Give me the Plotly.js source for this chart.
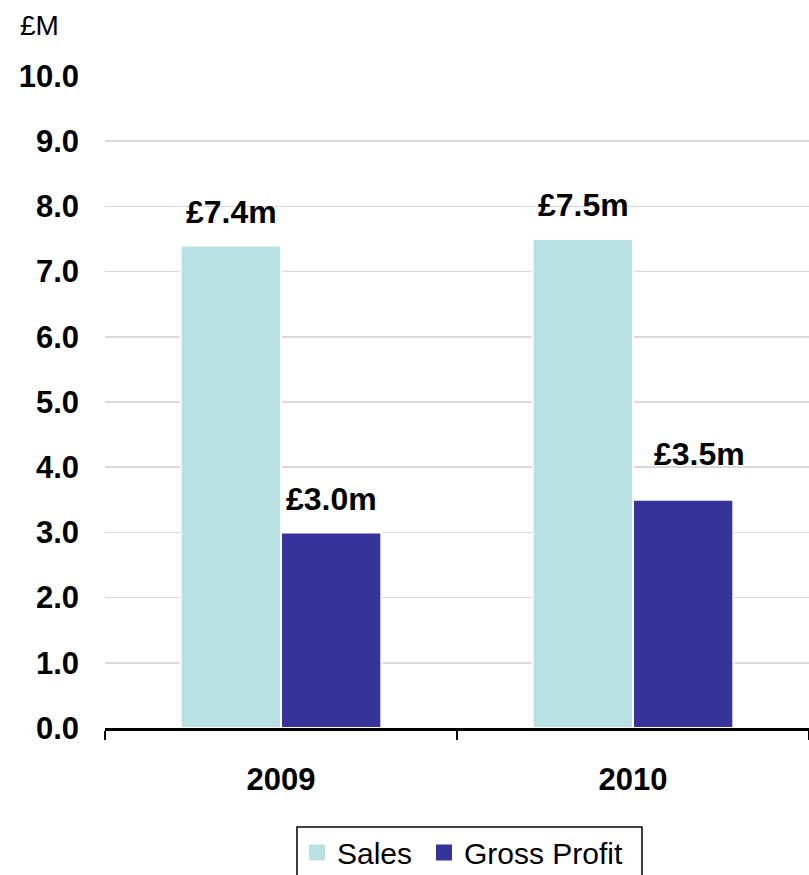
<!DOCTYPE html>
<html>
<head>
<meta charset="utf-8">
<script src="https://cdn.plot.ly/plotly-3.0.1.min.js"></script>
<style>
html, body { margin: 0; padding: 0; background: #ffffff; }
#chart { width: 809px; height: 875px; }
</style>
</head>
<body>
<div id="chart"></div>
<script>
var years = ['2009', '2010'];
var sales = [7.4, 7.5];
var grossProfit = [3.0, 3.5];
var salesLabels = ['£7.4m', '£7.5m'];
var profitLabels = ['£3.0m', '£3.5m'];
var yTickVals = [0, 1, 2, 3, 4, 5, 6, 7, 8, 9, 10];
var yTickText = ['0.0', '1.0', '2.0', '3.0', '4.0', '5.0', '6.0', '7.0', '8.0', '9.0', '10.0'];

var FONT = 'Liberation Sans, Arial, sans-serif';
var salesColor = '#b9e0e3';
var profitColor = '#36349a';

var traces = [
  {
    type: 'bar', name: 'Sales', x: years, y: sales,
    marker: { color: salesColor, line: { color: '#ffffff', width: 2 } },
    showlegend: false, hoverinfo: 'skip'
  },
  {
    type: 'bar', name: 'Gross Profit', x: years, y: grossProfit,
    marker: { color: profitColor, line: { color: '#ffffff', width: 2 } },
    showlegend: false, hoverinfo: 'skip'
  },
  {
    type: 'scatter', mode: 'markers', name: 'Sales', x: years, y: [null, null],
    xaxis: 'x2', yaxis: 'y2', legend: 'legend',
    marker: { symbol: 'square', size: 16, color: salesColor }, hoverinfo: 'skip'
  },
  {
    type: 'scatter', mode: 'markers', name: 'Gross Profit', x: years, y: [null, null],
    xaxis: 'x2', yaxis: 'y2', legend: 'legend2',
    marker: { symbol: 'square', size: 16, color: profitColor }, hoverinfo: 'skip'
  }
];

var annotations = [];
var labelShiftsSales = [-50, -50];
var labelShiftsProfit = [50, 66];
var labelLiftSales = [14, 14];
var labelLiftProfit = [13, 26];
for (var i = 0; i < years.length; i++) {
  annotations.push({
    x: i, y: sales[i], xref: 'x', yref: 'y', text: '<b>' + salesLabels[i] + '</b>',
    showarrow: false, xanchor: 'center', yanchor: 'bottom',
    xshift: labelShiftsSales[i], yshift: labelLiftSales[i],
    font: { family: FONT, size: 32, color: '#000000' }
  });
  annotations.push({
    x: i, y: grossProfit[i], xref: 'x', yref: 'y', text: '<b>' + profitLabels[i] + '</b>',
    showarrow: false, xanchor: 'center', yanchor: 'bottom',
    xshift: labelShiftsProfit[i], yshift: labelLiftProfit[i],
    font: { family: FONT, size: 32, color: '#000000' }
  });
}
annotations.push({
  text: '£M', xref: 'paper', yref: 'paper', x: -0.124, y: 1.078,
  xanchor: 'left', yanchor: 'middle', showarrow: false,
  font: { family: FONT, size: 28, color: '#000000' }
});

var legendBase = {
  orientation: 'h', xanchor: 'left', y: -0.151, yanchor: 'top',
  borderwidth: 0, bgcolor: 'rgba(0,0,0,0)',
  font: { family: FONT, size: 30, color: '#000000' },
  itemwidth: 30
};
var legend1 = Object.assign({}, legendBase, { x: 0.2727 });
var legend2 = Object.assign({}, legendBase, { x: 0.4531 });

var layout = {
  width: 809, height: 875,
  margin: { l: 105, r: 0, t: 76, b: 147, autoexpand: false },
  paper_bgcolor: '#ffffff', plot_bgcolor: '#ffffff',
  font: { family: FONT, color: '#000000' },
  barmode: 'group', bargap: 0.43, bargroupgap: 0,
  xaxis: {
    type: 'category', range: [-0.5, 1.5], showgrid: false, zeroline: false,
    showline: true, linecolor: '#000000', linewidth: 2.5,
    ticks: 'outside', tickson: 'boundaries', ticklen: 9, tickwidth: 2, tickcolor: '#000000',
    tickfont: { family: FONT, size: 31, color: '#000000', weight: 'bold' },
    ticklabelstandoff: 22, tickangle: 0
  },
  yaxis: {
    range: [0, 10], tickvals: yTickVals, ticktext: yTickText,
    showgrid: true, gridcolor: '#d9d9d9', gridwidth: 1.5,
    zeroline: false, showline: false, ticks: '',
    tickfont: { family: FONT, size: 31, color: '#000000', weight: 'bold' },
    ticklabelstandoff: 25
  },
  xaxis2: { overlaying: 'x', visible: false, type: 'category', range: [-0.5, 1.5] },
  yaxis2: { overlaying: 'y', visible: false, range: [0, 10] },
  showlegend: true,
  legend: legend1,
  legend2: legend2,
  shapes: [
    {
      type: 'rect', xref: 'paper', yref: 'paper',
      x0: 0.2727, x1: 0.7628, y0: -0.1518, y1: -0.25,
      line: { color: '#000000', width: 1.5 }, fillcolor: 'rgba(0,0,0,0)', layer: 'above'
    }
  ],
  annotations: annotations
};

Plotly.newPlot('chart', traces, layout, { staticPlot: true, displayModeBar: false });
</script>
</body>
</html>
